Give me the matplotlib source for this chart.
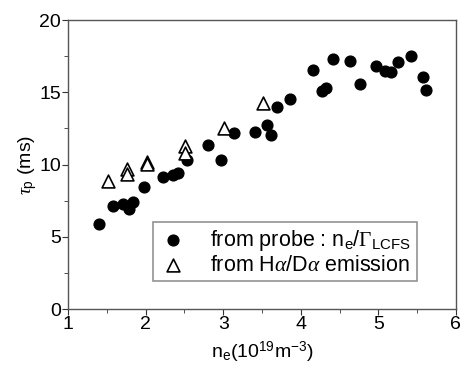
import matplotlib
matplotlib.use('Agg')
import matplotlib.pyplot as plt

plt.rcParams['font.family'] = ['Liberation Sans', 'DejaVu Sans']
plt.rcParams['mathtext.fontset'] = 'custom'
plt.rcParams['mathtext.rm'] = 'Liberation Sans'
plt.rcParams['mathtext.it'] = 'Liberation Serif:italic'
plt.rcParams['mathtext.sf'] = 'Liberation Serif'

# probe data: n_e (1e19 m^-3) vs tau_p (ms)
probe_ne = [1.40, 1.58, 1.71, 1.78, 1.84, 1.98, 2.23, 2.35, 2.42, 2.53,
            2.80, 2.97, 3.14, 3.41, 3.57, 3.62, 3.70, 3.86, 4.16, 4.27,
            4.32, 4.42, 4.63, 4.77, 4.97, 5.09, 5.16, 5.25, 5.42, 5.57, 5.62]
probe_tau = [5.88, 7.15, 7.24, 6.94, 7.38, 8.42, 9.11, 9.25, 9.39, 10.33,
             11.33, 10.31, 12.2, 12.27, 12.73, 12.02, 14.0, 14.55, 16.56, 15.1,
             15.27, 17.3, 17.16, 15.55, 16.8, 16.47, 16.42, 17.07, 17.5, 16.06, 15.18]

# H-alpha / D-alpha emission data
emis_ne = [1.52, 1.76, 1.76, 2.02, 2.02, 2.51, 2.51, 3.01, 3.51]
emis_tau = [8.88, 9.67, 9.34, 10.2, 10.05, 11.28, 10.77, 12.5, 14.23]

fig = plt.figure(figsize=(4.61, 3.72), dpi=100)
ax = fig.add_axes([0.1475, 0.169, 0.8415, 0.777])

ax.scatter(probe_ne, probe_tau, s=60, c='black', marker='o',
           label=r'from probe : n$_\mathrm{e}$/$\mathsf{\Gamma}_\mathrm{LCFS}$')
ax.scatter(emis_ne, emis_tau, s=85, facecolors='white', edgecolors='black',
           linewidths=1.2, marker='^',
           label=r'from H$\alpha$/D$\alpha$ emission')

ax.set_xlim(1, 6)
ax.set_ylim(0, 20)
ax.set_xticks([1, 2, 3, 4, 5, 6])
ax.set_xticks([1.5, 2.5, 3.5, 4.5, 5.5], minor=True)
ax.set_yticks([0, 5, 10, 15, 20])
ax.set_yticks([2.5, 7.5, 12.5, 17.5], minor=True)
ax.tick_params(which='both', direction='out', labelsize=14, color='#333333',
               pad=1, top=False, right=False)
ax.tick_params(which='major', length=4)
ax.tick_params(which='minor', length=3)
for sp in ax.spines.values():
    sp.set_color('#555555')
    sp.set_linewidth(1.0)

ax.set_xlabel(r'n$_\mathrm{e}$(10$^\mathrm{19}$m$^\mathrm{-3}$)', fontsize=14, labelpad=5)
ax.set_ylabel(r'$\tau_\mathrm{p}$ (ms)', fontsize=14, labelpad=0)

leg = ax.legend(loc='lower left', bbox_to_anchor=(0.219, 0.097), borderaxespad=0,
                fontsize=15.5, frameon=True, fancybox=False, handletextpad=1.0,
                borderpad=0.25, labelspacing=0.1, handlelength=1.4)
leg.get_frame().set_edgecolor('#777777')
leg.get_frame().set_linewidth(1.2)

fig.savefig('out.png', dpi=100)
